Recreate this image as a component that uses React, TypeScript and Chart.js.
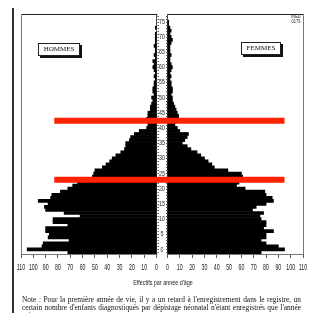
import React, { useEffect, useRef } from "react";
import { Chart, registerables } from "chart.js";

Chart.register(...registerables);

// ---- data ----
// single-year ages (bar index 0 = bottom bar)
const ages: string[] = [
  "0","1","2","3","4","5","6","7","8","9","10","11","12","13","14","15","16","17","18","19",
  "20","21","22","23","24","25","26","27","28","29","30","31","32","33","34","35","36","37","38","39",
  "40","41","42","43","44","45","46","47","48","49","50","51","52","53","54","55","56","57","58","59",
  "60","61","62","63","64","65","66","67","68","69","70","71","72","73","74","75","76","77","78",
];

// HOMMES (left)
const menValues: number[] = [
  72, 105, 93, 92, 71, 88, 87, 90, 90, 72,
  84, 84, 62, 75, 90, 91, 88, 96, 86, 85,
  78, 72, 68, 64, 58, 52, 51, 50, 44, 41,
  38, 36, 33, 29, 26, 25, 25, 22, 21, 18,
  14, 8, 7, 7, 8, 7, 7, 5, 5, 4,
  3, 4, 2, 3, 3, 2, 2, 1, 2, 1,
  2, 3, 2, 3, 1, 2, 1, 1, 2, 1,
  1, 1, 1, 0, 1, 0, 0, 0, 0,
];

// FEMMES (right)
const womenValues: number[] = [
  76, 95, 90, 80, 76, 80, 80, 86, 78, 80,
  80, 76, 75, 78, 69, 72, 80, 86, 85, 80,
  79, 63, 56, 58, 60, 61, 60, 49, 38, 36,
  33, 30, 27, 24, 19, 16, 12, 14, 16, 17,
  10, 8, 6, 7, 9, 9, 8, 7, 6, 5,
  4, 4, 3, 4, 4, 3, 3, 2, 3, 2,
  3, 4, 3, 2, 2, 3, 2, 2, 2, 3,
  4, 3, 2, 3, 2, 1, 1, 0, 0,
];

// x tick values (per side)
const xTickValues: number[] = [0, 10, 20, 30, 40, 50, 60, 70, 80, 90, 100, 110];
// age labels shown in the central strip
const ageTickLabels: number[] = [0, 5, 10, 15, 20, 25, 30, 35, 40, 45, 50, 55, 60, 65, 70, 75];
// red horizontal marker lines (bar-index scale) and their extent (men / women values)
const redLineLevels: number[] = [43.4, 23.9];
const redLineMenExtent = 83;
const redLineWomenExtent = 95;

// ---- style constants ----
const GAP = 4.45; // half gap between panels in value units
const MAXV = 110;
const LABEL_SHIFT = 1;
const SANS = "'Liberation Sans', Arial, sans-serif";
const SERIF = "'Liberation Serif', 'DejaVu Serif', serif";

function narrowText(ctx: CanvasRenderingContext2D, text: string, x: number, y: number, sx: number) {
  ctx.save();
  ctx.translate(x, y);
  ctx.scale(sx, 1);
  ctx.fillText(text, 0, 0);
  ctx.restore();
}

const overlayPlugin = {
  id: "pyramidOverlay",
  afterDatasetsDraw(chart: any) {
    const ctx = chart.ctx as CanvasRenderingContext2D;
    const xs = chart.scales.x;
    const ys = chart.scales.y;
    const area = chart.chartArea;
    const lL = Math.round(xs.getPixelForValue(-GAP - MAXV)) + 0.5;
    const lR = Math.round(xs.getPixelForValue(-GAP)) + 0.5;
    const rL = Math.round(xs.getPixelForValue(GAP)) + 0.5;
    const rR = Math.round(xs.getPixelForValue(GAP + MAXV)) + 0.5;
    const top = Math.round(area.top) + 0.5;
    const bot = Math.round(area.bottom) + 0.5;
    ctx.save();
    // frames
    ctx.lineWidth = 1;
    ctx.strokeStyle = "#222";
    ctx.beginPath();
    ctx.moveTo(lL, top); ctx.lineTo(lR, top);
    ctx.moveTo(rL, top); ctx.lineTo(rR, top);
    ctx.stroke();
    ctx.strokeStyle = "#777";
    ctx.beginPath();
    ctx.moveTo(lL, top); ctx.lineTo(lL, bot);
    ctx.moveTo(rR, top); ctx.lineTo(rR, bot);
    ctx.moveTo(lL, bot); ctx.lineTo(lR, bot);
    ctx.moveTo(rL, bot); ctx.lineTo(rR, bot);
    ctx.stroke();
    // strip ticks
    ctx.strokeStyle = "#555";
    ctx.beginPath();
    for (let i = 0; i < ages.length; i++) {
      const y = Math.round(ys.getPixelForValue(i)) + 0.5;
      ctx.moveTo(lR, y); ctx.lineTo(lR + 1.5, y);
      ctx.moveTo(rL - 1.5, y); ctx.lineTo(rL, y);
    }
    ctx.stroke();
    // age labels
    const cx = (xs.getPixelForValue(-GAP) + xs.getPixelForValue(GAP)) / 2;
    ctx.fillStyle = "#222";
    ctx.font = `7.5px ${SANS}`;
    ctx.textAlign = "center";
    ctx.textBaseline = "middle";
    for (const t of ageTickLabels) {
      narrowText(ctx, String(t), cx, ys.getPixelForValue(t + LABEL_SHIFT), 0.7);
    }
    // x tick labels (condensed)
    ctx.font = `8.5px ${SANS}`;
    ctx.textBaseline = "middle";
    for (const tk of xs.ticks) {
      const label = String(Math.round(Math.abs(Number(tk.value)) - GAP));
      narrowText(ctx, label, xs.getPixelForValue(tk.value), area.bottom + 14, 0.62);
    }
    // red marker lines
    ctx.strokeStyle = "#ff2200";
    ctx.lineWidth = 6;
    for (const lv of redLineLevels) {
      const y = ys.getPixelForValue(lv);
      ctx.beginPath();
      ctx.moveTo(xs.getPixelForValue(-GAP - redLineMenExtent), y);
      ctx.lineTo(xs.getPixelForValue(GAP + redLineWomenExtent), y);
      ctx.stroke();
    }
    ctx.restore();
  },
};

function PyramidChart() {
  const ref = useRef<HTMLCanvasElement | null>(null);
  useEffect(() => {
    if (!ref.current) return;
    const chart = new Chart(ref.current, {
      type: "bar",
      data: {
        labels: ages,
        datasets: [
          {
            label: "HOMMES",
            data: menValues.map((v) => [-GAP - v, -GAP]) as any,
            backgroundColor: "#000",
            borderWidth: 0,
            barPercentage: 1,
            categoryPercentage: 1,
            grouped: false,
          },
          {
            label: "FEMMES",
            data: womenValues.map((v) => [GAP, GAP + v]) as any,
            backgroundColor: "#000",
            borderWidth: 0,
            barPercentage: 1,
            categoryPercentage: 1,
            grouped: false,
          },
        ],
      },
      options: {
        indexAxis: "y",
        animation: false,
        responsive: false,
        maintainAspectRatio: false,
        layout: { padding: { left: 21, right: 13, top: 14, bottom: 45 } },
        plugins: { legend: { display: false }, tooltip: { enabled: false } },
        scales: {
          x: {
            type: "linear",
            min: -GAP - MAXV,
            max: GAP + MAXV,
            afterBuildTicks: (scale: any) => {
              const left = xTickValues.map((v) => ({ value: -GAP - v }));
              const right = xTickValues.map((v) => ({ value: GAP + v }));
              scale.ticks = [...left.reverse(), ...right];
            },
            afterFit: (scale: any) => {
              scale.height = 14;
            },
            ticks: { display: false, autoSkip: false },
            grid: {
              drawOnChartArea: false,
              drawTicks: true,
              tickLength: 4,
              color: "#555",
              tickColor: "#555",
            },
            border: { display: false },
          },
          y: {
            type: "category",
            reverse: true,
            display: false,
          },
        },
      } as any,
      plugins: [overlayPlugin],
    });
    return () => chart.destroy();
  }, []);
  return <canvas ref={ref} width={316} height={313} style={{ display: "block", width: 316, height: 313 }} />;
}

const boxStyle: React.CSSProperties = {
  position: "absolute",
  height: 11,
  border: "1px solid #222",
  background: "#fff",
  boxShadow: "2px 2px 0 #111",
  fontFamily: SERIF,
  fontSize: 7,
  lineHeight: "11px",
  textAlign: "center",
  color: "#111",
};

const noteLine: React.CSSProperties = {
  width: 279,
  whiteSpace: "nowrap",
  textAlign: "justify",
  textAlignLast: "justify" as any,
  height: 8,
};

export default function App() {
  return (
    <div
      style={{
        position: "fixed",
        left: 0,
        top: 0,
        width: 316,
        height: 313,
        overflow: "hidden",
        background: "#fff",
      }}
    >
      <PyramidChart />
      <div style={{ position: "absolute", left: 12, top: 8, width: 1.5, height: 305, background: "#333" }} />
      <div style={{ ...boxStyle, left: 38, top: 43, width: 40 }}>HOMMES</div>
      <div style={{ ...boxStyle, left: 241, top: 42, width: 38 }}>FEMMES</div>
      <div
        style={{
          position: "absolute",
          left: 290,
          top: 14,
          fontFamily: SANS,
          fontSize: 5,
          lineHeight: "5px",
          color: "#222",
          textAlign: "center",
          transform: "scaleX(0.8)",
        }}
      >
        INED
        <br />
        0179
      </div>
      <div
        style={{
          position: "absolute",
          left: 63,
          width: 200,
          top: 278,
          textAlign: "center",
          fontFamily: SANS,
          fontSize: 7.5,
          lineHeight: "9px",
          color: "#222",
          transform: "scaleX(0.72)",
          transformOrigin: "50% 50%",
        }}
      >
        Effectifs par année d'âge
      </div>
      <div
        style={{
          position: "absolute",
          left: 22,
          top: 296,
          fontFamily: SERIF,
          fontSize: 7.4,
          lineHeight: "8px",
          color: "#111",
        }}
      >
        <div style={noteLine}>
          Note : Pour la première année de vie, il y a un retard à l'enregistrement dans le registre, un
        </div>
        <div style={noteLine}>
          certain nombre d'enfants diagnostiqués par dépistage néonatal n'étant enregistrés que l'année
        </div>
        <div style={{ whiteSpace: "nowrap" }}>suivante.</div>
      </div>
    </div>
  );
}
